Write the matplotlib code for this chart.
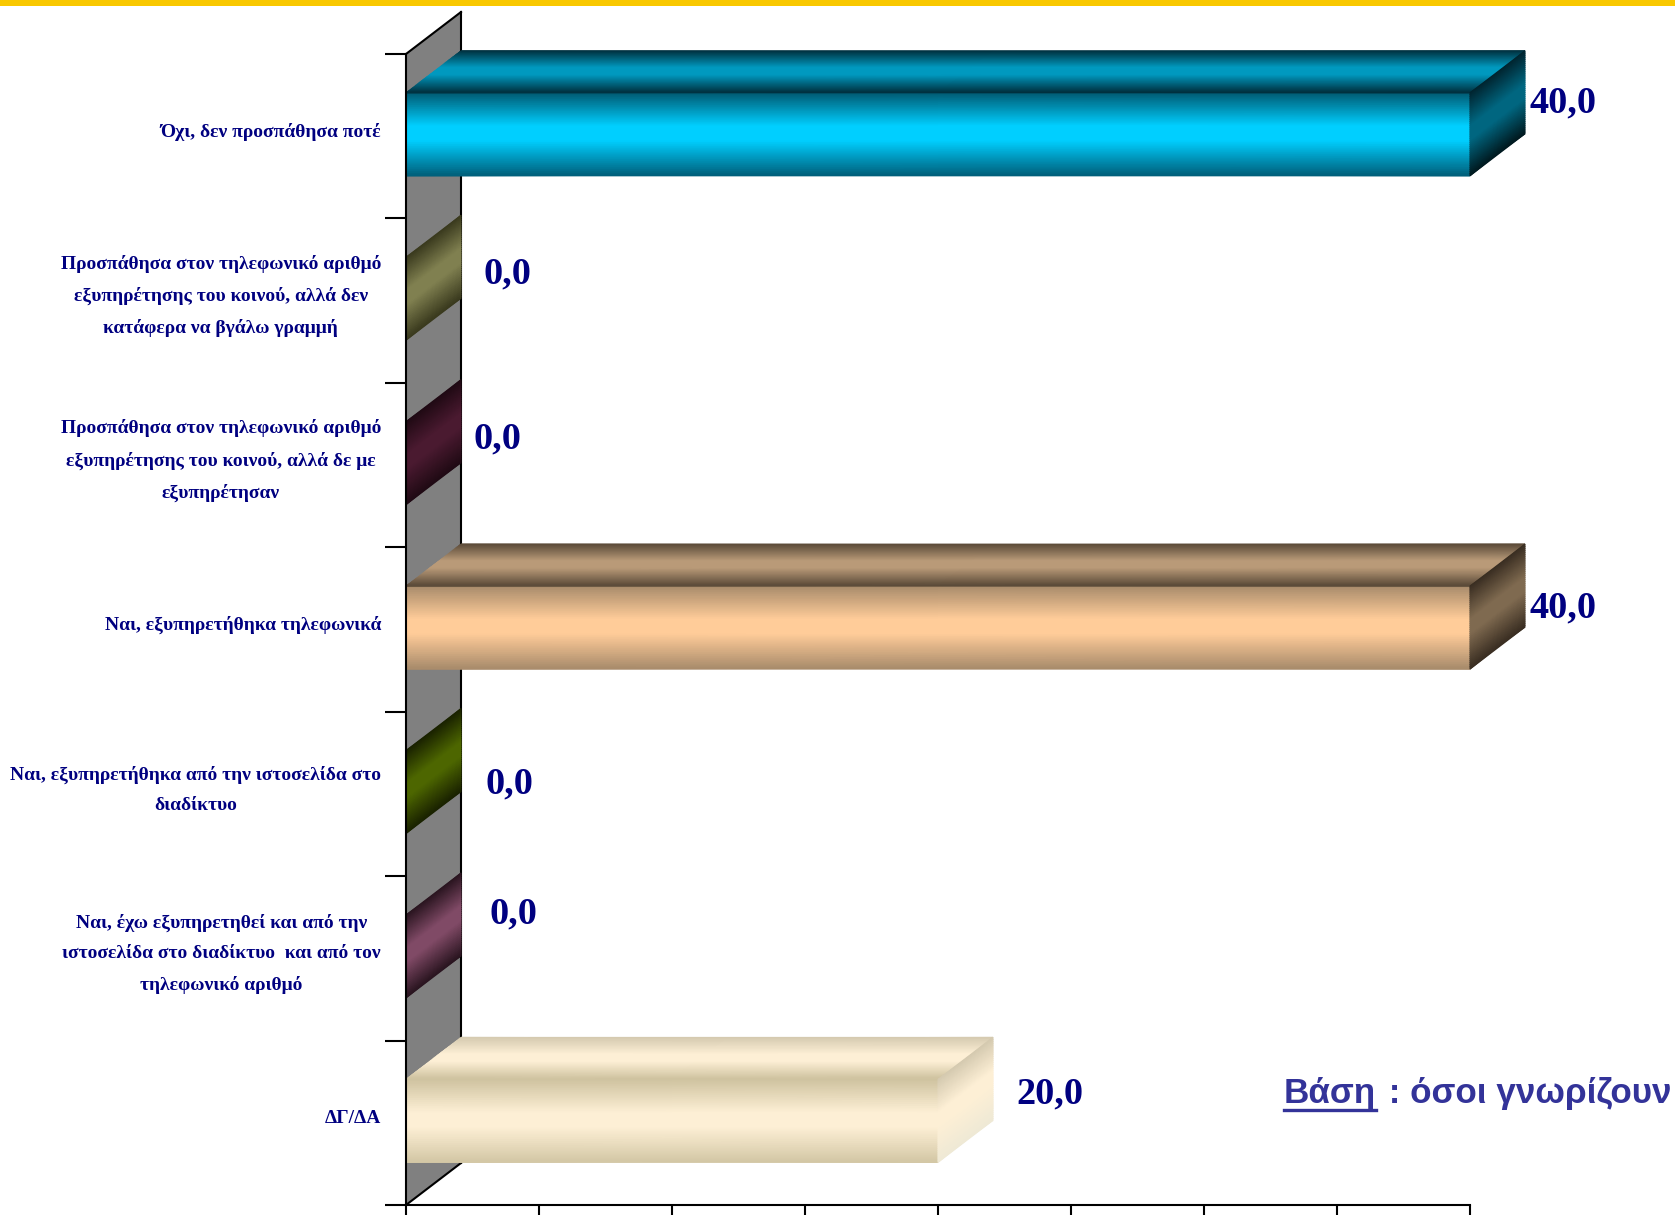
import matplotlib
matplotlib.use("Agg")
import matplotlib.pyplot as plt
import numpy as np
from matplotlib.colors import LinearSegmentedColormap
from matplotlib.patches import Polygon, Rectangle
from matplotlib.lines import Line2D

categories = [
    "Όχι, δεν προσπάθησα ποτέ",
    "Προσπάθησα στον τηλεφωνικό αριθμό\nεξυπηρέτησης του κοινού, αλλά δεν\nκατάφερα να βγάλω γραμμή",
    "Προσπάθησα στον τηλεφωνικό αριθμό\nεξυπηρέτησης του κοινού, αλλά δε με\nεξυπηρέτησαν",
    "Ναι, εξυπηρετήθηκα τηλεφωνικά",
    "Ναι, εξυπηρετήθηκα από την ιστοσελίδα στο\nδιαδίκτυο",
    "Ναι, έχω εξυπηρετηθεί και από την\nιστοσελίδα στο διαδίκτυο  και από τον\nτηλεφωνικό αριθμό",
    "ΔΓ/ΔΑ",
]
values = [40.0, 0.0, 0.0, 40.0, 0.0, 0.0, 20.0]
value_labels = ["40,0", "0,0", "0,0", "40,0", "0,0", "0,0", "20,0"]
label_offsets = [(93, 33), (101, 27), (91, 26), (93, 22), (103, 10), (107, 44), (112, 29)]

front_colors = [
    ["#005a72", "#00cfff", "#005f7a"],
    ["#3a3a1e", "#808050", "#3a3a1e"],
    ["#200a14", "#4a1a30", "#200a14"],
    ["#a88b6b", "#ffcc99", "#a88b6b"],
    ["#1a2200", "#4d6600", "#1a2200"],
    ["#2a1520", "#804a66", "#2a1520"],
    ["#cfc3a0", "#fdefd5", "#d3c7a5"],
]
top_colors = [
    ["#00303e", "#0099bf", "#00303e"],
    ["#3a3a1e", "#808050", "#3a3a1e"],
    ["#200a14", "#4a1a30", "#200a14"],
    ["#5a4a38", "#b99a78", "#5a4a38"],
    ["#1a2200", "#4d6600", "#1a2200"],
    ["#2a1520", "#804a66", "#2a1520"],
    ["#d5cab0", "#fdefd5", "#cfc3a0"],
]
side_colors = [
    ["#002530", "#006680", "#001a20"],
    ["#3a3a1e", "#808050", "#3a3a1e"],
    ["#200a14", "#4a1a30", "#200a14"],
    ["#3a2e22", "#7f6a50", "#3a2e22"],
    ["#1a2200", "#4d6600", "#1a2200"],
    ["#2a1520", "#804a66", "#2a1520"],
    ["#d5cab0", "#fdefd5", "#efe9d5"],
]

W, H = 1675, 1215
L, R, T, B = 406, 1470, 54, 1205
NAVY = "#000080"
fig = plt.figure(figsize=(W / 100, H / 100), dpi=100, facecolor="white")
ax = fig.add_axes([L / W, 1 - B / H, (R - L) / W, (B - T) / H])
ax.set_xlim(0, 40)
ax.set_ylim(7, 0)
ax.patch.set_visible(False)

DX = 55 / ((R - L) / 40)
DY = 42 / ((B - T) / 7)
BAR_TOP, BAR_H = 0.236, 0.505

fig.add_artist(Rectangle((0, 1 - 6 / H), 1, 6 / H, transform=fig.transFigure, color="#f9c800", lw=0))


def grad_quad(p0, p1, p2, p3, cols, z):
    """p0-p1 is the upper edge, p3-p2 the lower one."""
    stops = [(0.0, cols[0]), (0.40, cols[1]), (0.58, cols[1]), (1.0, cols[2])]
    cmap = LinearSegmentedColormap.from_list("g", stops, N=512)
    t = np.linspace(0, 1, 41)[:, None]
    p0, p1, p2, p3 = map(np.array, (p0, p1, p2, p3))
    left = p0 + (p3 - p0) * t
    right = p1 + (p2 - p1) * t
    X = np.hstack([left[:, :1], right[:, :1]])
    Y = np.hstack([left[:, 1:], right[:, 1:]])
    C = np.hstack([t, t])
    return ax.pcolormesh(X, Y, C, cmap=cmap, vmin=0, vmax=1, shading="gouraud",
                         zorder=z, clip_on=False)


# grey wall
ax.add_patch(Polygon([(0, 7), (0, 0), (DX, -DY), (DX, 7 - DY)], closed=True, facecolor="#808080",
                     edgecolor="none", zorder=1, clip_on=False))
for xs, ys in [([0, DX], [0, -DY]), ([0, DX], [7, 7 - DY]), ([DX, DX], [-DY, 7 - DY])]:
    ax.add_line(Line2D(xs, ys, color="black", lw=1.5, zorder=1.5, clip_on=False))

for i, v in enumerate(values):
    y0 = i + BAR_TOP
    y1 = y0 + BAR_H
    z = 2 + i * 0.1
    if v > 0:
        grad_quad((0, y0), (v, y0), (v, y1), (0, y1), front_colors[i], z)
        grad_quad((DX, y0 - DY), (v + DX, y0 - DY), (v, y0), (0, y0), top_colors[i], z)
    grad_quad((v, y0), (v + DX, y0 - DY), (v + DX, y1 - DY), (v, y1), side_colors[i], z)
    ax.annotate(value_labels[i], xy=(v, i + 0.5), xytext=label_offsets[i], textcoords="offset pixels",
                ha="center", va="center", family="Liberation Serif", fontweight="bold",
                fontsize=27.5, color=NAVY, zorder=6, annotation_clip=False)

for s in ("top", "right"):
    ax.spines[s].set_visible(False)
for s in ("left", "bottom"):
    ax.spines[s].set_linewidth(1.5)
    ax.spines[s].set_zorder(5)
ax.set_xticks(np.arange(0, 41, 5))
ax.set_xticklabels([])
ax.set_yticks(np.arange(0, 8))
ax.set_yticklabels([])
ax.tick_params(axis="both", which="major", direction="out", width=1.5, length=15, color="black")
ax.set_yticks(np.arange(7) + 0.5 - 4.5 / 164.6, minor=True)
ax.set_yticklabels(categories, minor=True, family="Liberation Serif", fontweight="bold",
                   fontsize=14, color=NAVY, ha="right", va="center", multialignment="center", linespacing=2.0)
ax.tick_params(axis="y", which="minor", length=0, pad=18)

# base note with underlined first word
fig.canvas.draw()
r = fig.canvas.get_renderer()
t1 = fig.text(1284 / W, 1 - 1093 / H, "Βάση", family="Liberation Sans", fontweight="bold",
              fontsize=25.2, color="#333399", ha="left", va="center")
bb = t1.get_window_extent(r)
t2 = fig.text((bb.x1 + 3) / W, 1 - 1093 / H, " : όσοι γνωρίζουν", family="Liberation Sans", fontweight="bold",
              fontsize=25.2, color="#333399", ha="left", va="center")
ul_y = H - 1110
fig.add_artist(Line2D([bb.x0 / W, bb.x1 / W], [ul_y / H, ul_y / H], color="#333399", lw=2.4,
                      transform=fig.transFigure))

fig.savefig("out.png", dpi=100, facecolor="white")
